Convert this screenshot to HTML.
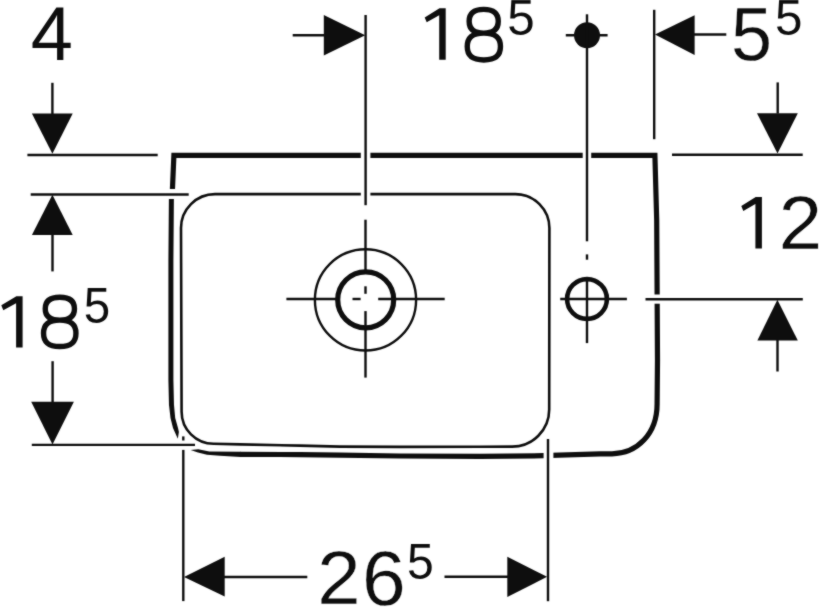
<!DOCTYPE html>
<html><head><meta charset="utf-8"><style>
html,body{margin:0;padding:0;background:#fff;width:819px;height:607px;overflow:hidden}
svg{position:absolute;left:0;top:0;display:block}
text{font-family:"Liberation Sans",sans-serif;fill:#0e0e0e;stroke:#fff}
</style></head><body>
<svg width="819" height="607" viewBox="0 0 819 607" stroke="#0e0e0e" fill="none">
<defs><filter id="soft" x="0" y="0" width="819" height="607" filterUnits="userSpaceOnUse" color-interpolation-filters="sRGB"><feConvolveMatrix order="3" kernelMatrix="1 2 1 2 16 2 1 2 1" edgeMode="none"/></filter></defs>
<g filter="url(#soft)">
<text transform="translate(30.83,60.20) scale(0.9952,1)" font-size="76.16" stroke-width="0">4</text>
<path d="M445.70,8.20 L445.70,59.80 L439.20,59.80 L439.20,15.20 L426.70,22.30 L424.70,17.40 L439.50,8.20Z" fill="#0e0e0e" stroke="none"/>
<path d="M498.25,21.27 C498.25,29.35 493.59,33.15 483.70,33.15 C473.81,33.15 469.15,29.35 469.15,21.27 C469.15,13.20 473.81,9.40 483.70,9.40 C493.59,9.40 498.25,13.20 498.25,21.27Z M500.45,46.58 C500.45,55.70 495.14,60.00 483.85,60.00 C472.56,60.00 467.25,55.70 467.25,46.58 C467.25,37.45 472.56,33.15 483.85,33.15 C495.14,33.15 500.45,37.45 500.45,46.58Z" fill="none" stroke-width="5.4"/>
<text transform="translate(507.23,35.40) scale(0.9873,1)" font-size="50.00" stroke-width="0">5</text>
<text transform="translate(731.10,60.10) scale(0.9817,1)" font-size="75.21" stroke-width="0.3">5</text>
<text transform="translate(774.93,35.40) scale(0.9873,1)" font-size="50.00" stroke-width="0">5</text>
<path d="M761.90,196.90 L761.90,248.60 L755.40,248.60 L755.40,203.90 L743.30,211.03 L741.30,206.12 L755.70,196.90Z" fill="#0e0e0e" stroke="none"/>
<text transform="translate(778.66,248.55) scale(1.0138,1)" font-size="76.79" stroke-width="0.3">2</text>
<path d="M22.60,296.20 L22.60,347.60 L16.10,347.60 L16.10,303.20 L3.30,310.25 L1.30,305.36 L16.40,296.20Z" fill="#0e0e0e" stroke="none"/>
<path d="M74.45,308.73 C74.45,316.49 69.78,320.15 59.85,320.15 C49.92,320.15 45.25,316.49 45.25,308.73 C45.25,300.96 49.92,297.30 59.85,297.30 C69.78,297.30 74.45,300.96 74.45,308.73Z M75.95,333.32 C75.95,342.28 70.77,346.50 59.75,346.50 C48.73,346.50 43.55,342.28 43.55,333.32 C43.55,324.37 48.73,320.15 59.75,320.15 C70.77,320.15 75.95,324.37 75.95,333.32Z" fill="none" stroke-width="5.4"/>
<text transform="translate(83.70,323.00) scale(0.9521,1)" font-size="49.86" stroke-width="0">5</text>
<text transform="translate(317.26,603.65) scale(1.0234,1)" font-size="76.07" stroke-width="0.3">2</text>
<text transform="translate(361.92,604.68) scale(1.0170,1)" font-size="77.26" stroke-width="0.3">6</text>
<text transform="translate(406.98,579.00) scale(0.9593,1)" font-size="50.14" stroke-width="0">5</text>
<path d="M172.4,190 L173.9,155.3 L654.9,155.3 L656.7,220 L657.5,360 L657.1,404 C657.1,434 637,453.6 612,453.8 L600,453.9 L543,455.7 L480,456.4 L400,456 L340,455.1 L300,454.6 L240,454.3" fill="none" stroke-width="5.2" stroke-linejoin="miter"/>
<polygon points="190.6,450 198.3,449.2 209.3,451.4 240.5,451.7 240.5,456.9 220,455.8 207,454.8 198,452.6" fill="#0e0e0e" stroke="none"/>
<path d="M171.4,198 L170.9,260 L170.9,380 L171.5,405.5" fill="none" stroke-width="5"/>
<polygon points="169.0,405 170.5,418 173.0,428 177.8,438.8 178.9,432 178.0,428 175.2,418 174.0,405" fill="#0e0e0e" stroke="none"/>
<rect x="360.8" y="149" width="9.6" height="10" fill="#fff" stroke="none"/>
<rect x="582.7" y="149" width="8.5" height="10" fill="#fff" stroke="none"/>
<rect x="543.6" y="449" width="9.8" height="12" fill="#fff" stroke="none"/>
<rect x="650" y="294.5" width="12" height="9.2" fill="#fff" stroke="none"/>
<rect x="165" y="189" width="14" height="10" fill="#fff" stroke="none"/>
<path d="M215,194.1 L360.8,194.1 M370.4,194.1 L515.4,194.1 A34,34 0 0 1 549.4,228.1 L549.2,409.6 A37,37 0 0 1 512.2,446.6 L480,446.7 L400,446.9 L340,446.6 L300,445.6 L240,444.4 L213.6,443.7 A32,32 0 0 1 181.6,411.7 L181,228.1 A34,34 0 0 1 215,194.1" fill="none" stroke-width="2.6"/>
<line x1="52.4" y1="82.8" x2="52.4" y2="114" stroke-width="2.4"/>
<polygon points="31.9,113.6 72.7,113.6 52.4,153.8" fill="#0e0e0e" stroke="none"/>
<line x1="27.4" y1="155.0" x2="157.7" y2="155.0" stroke-width="2.4"/>
<line x1="30.7" y1="194.5" x2="188.7" y2="194.5" stroke-width="2.4"/>
<polygon points="52.4,194.8 31.9,235.1 72.7,235.1" fill="#0e0e0e" stroke="none"/>
<line x1="52.5" y1="235" x2="52.5" y2="271.4" stroke-width="2.4"/>
<line x1="52.6" y1="361.2" x2="52.6" y2="402" stroke-width="2.4"/>
<polygon points="31.2,401.7 73.9,401.7 52.5,444.6" fill="#0e0e0e" stroke="none"/>
<line x1="31.8" y1="444.9" x2="195" y2="444.9" stroke-width="2.4"/>
<line x1="365.6" y1="15" x2="365.6" y2="205.2" stroke-width="2.4"/>
<line x1="292.7" y1="35.3" x2="324.5" y2="35.3" stroke-width="2.4"/>
<polygon points="323.8,15 323.8,55.4 365.2,35.3" fill="#0e0e0e" stroke="none"/>
<circle cx="587" cy="35.3" r="13" fill="#0e0e0e" stroke="none"/>
<line x1="565.8" y1="35.3" x2="607.6" y2="35.3" stroke-width="2.4"/>
<line x1="587" y1="14.3" x2="587" y2="241.3" stroke-width="2.4"/>
<line x1="587" y1="254.4" x2="587" y2="259.7" stroke-width="2.4"/>
<line x1="587" y1="277.3" x2="587" y2="343.1" stroke-width="2.4"/>
<line x1="654.2" y1="9.8" x2="654.2" y2="139.2" stroke-width="2.4"/>
<polygon points="655,34.5 694.6,15.3 694.6,55" fill="#0e0e0e" stroke="none"/>
<line x1="694" y1="34.5" x2="726.3" y2="34.5" stroke-width="2.4"/>
<line x1="777.7" y1="82.4" x2="777.7" y2="113.6" stroke-width="2.4"/>
<polygon points="757,113.2 797.8,113.2 777.5,153.6" fill="#0e0e0e" stroke="none"/>
<line x1="672" y1="154.8" x2="802.7" y2="154.8" stroke-width="2.4"/>
<line x1="645.5" y1="299.3" x2="802.8" y2="299.3" stroke-width="2.4"/>
<polygon points="777.4,299.8 757.4,340.4 797.8,340.4" fill="#0e0e0e" stroke="none"/>
<line x1="777.5" y1="340" x2="777.5" y2="371.5" stroke-width="2.4"/>
<line x1="183.3" y1="436.4" x2="183.3" y2="440.5" stroke-width="2.4"/>
<line x1="183.3" y1="449.9" x2="183.3" y2="601.1" stroke-width="2.4"/>
<line x1="548" y1="439" x2="548" y2="601.2" stroke-width="2.4"/>
<polygon points="184,577 224.7,556.7 224.7,596.6" fill="#0e0e0e" stroke="none"/>
<line x1="224" y1="577" x2="307.3" y2="577" stroke-width="2.4"/>
<line x1="444.5" y1="576.8" x2="508" y2="576.8" stroke-width="2.4"/>
<polygon points="507.3,556.8 507.3,596.9 547.1,576.8" fill="#0e0e0e" stroke="none"/>
<circle cx="365.5" cy="299.9" r="50.6" fill="none" stroke-width="2.4"/>
<circle cx="365.7" cy="299.8" r="28.0" fill="none" stroke-width="5.2"/>
<line x1="286.4" y1="299.0" x2="339" y2="299.0" stroke-width="2.4"/>
<line x1="352.5" y1="299.0" x2="360.6" y2="299.0" stroke-width="2.4"/>
<line x1="378.2" y1="299.0" x2="444.7" y2="299.0" stroke-width="2.4"/>
<line x1="365.5" y1="219.7" x2="365.5" y2="273" stroke-width="2.4"/>
<line x1="365.5" y1="286.3" x2="365.5" y2="293.8" stroke-width="2.4"/>
<line x1="365.5" y1="311.1" x2="365.5" y2="377.6" stroke-width="2.4"/>
<circle cx="587" cy="299" r="19.9" fill="none" stroke-width="4.6"/>
<line x1="560.2" y1="299" x2="626.9" y2="299" stroke-width="2.4"/>
</g>
</svg>
</body></html>
